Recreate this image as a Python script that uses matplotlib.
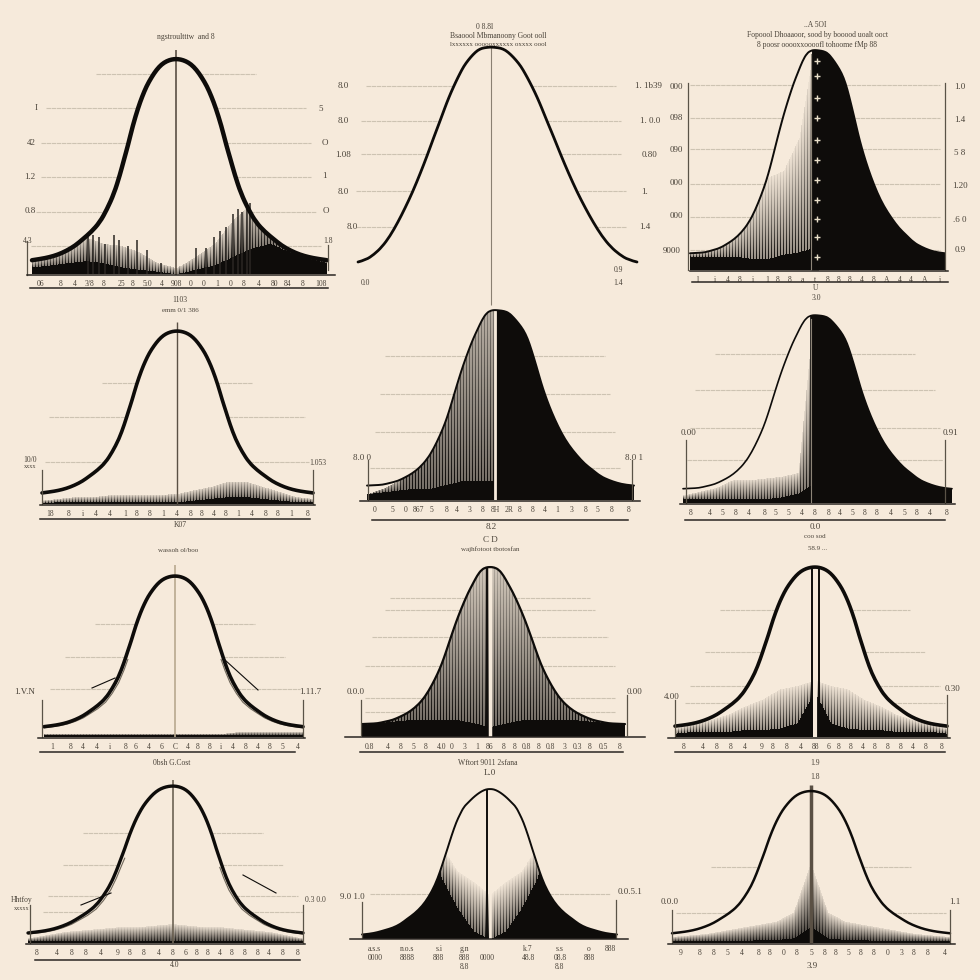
import numpy as np
import matplotlib
matplotlib.use("Agg")
import matplotlib.pyplot as plt
from matplotlib.lines import Line2D
from matplotlib.patches import PathPatch
from matplotlib.path import Path

PAPER = "#F6EADB"
INK = "#0E0C0A"
GRID = "#CDC3B2"
TEXT = "#4a4339"
plt.rcParams["font.family"] = ["Liberation Serif", "DejaVu Sans"]

# half bell: offset from the centre (0..1) and height (0..1)
OFFSET = [0, .03, .065, .1, .135, .17, .205, .235, .263, .3, .333, .36, .39, .43, .48, .53, .59, .647, .7, .76, .82, .88, .94, 1]
BELL_A = [1, .998, .99, .975, .95, .915, .873, .825, .773, .69, .60, .535, .46, .375, .30, .24, .195, .162, .132, .108, .09, .078, .07, .064]
BELL_FLAT = [1, .998, .995, .985, .965, .94, .91, .875, .84, .79, .74, .695, .645, .58, .495, .415, .325, .25, .185, .12, .07, .035, .01, 0]
BELL_SLIM = [1, .998, .985, .95, .9, .85, .79, .735, .68, .6, .525, .465, .405, .34, .27, .215, .17, .14, .12, .1, .09, .08, .078, .076]
BELL_FAT = [1, .998, .995, .985, .96, .93, .895, .85, .79, .7, .615, .555, .495, .425, .35, .29, .235, .19, .16, .125, .105, .09, .08, .076]
BELL_ROUND = [1, .998, .985, .965, .94, .91, .88, .83, .78, .69, .6, .53, .45, .36, .28, .22, .17, .135, .1, .075, .06, .045, .035, .03]

CURVES_LEFT = [BELL_A, BELL_FLAT, BELL_SLIM, BELL_A, BELL_SLIM, BELL_SLIM, BELL_A, BELL_SLIM, BELL_A, BELL_A, BELL_ROUND, BELL_A]
CURVES_RIGHT = [BELL_A, BELL_FLAT, BELL_FAT, BELL_A, BELL_FAT, BELL_FAT, BELL_A, BELL_SLIM, BELL_A, BELL_A, BELL_ROUND, BELL_A]

# ink under each curve at these stations, as fraction of the panel height
INK_X = [-1, -.875, -.75, -.625, -.5, -.375, -.25, -.125, -.01, .01, .125, .25, .375, .5, .625, .75, .875, 1]
SOLID = [
    [.03, .04, .05, .06, .05, .03, .02, .01, 0, 0, .02, .04, .08, .12, .14, .1, .07, .05],
    [0] * 18,
    [.06, .06, .06, .06, .05, .05, .07, .08, .1] + [1] * 9,
    [.005, .01, .01, .01, .01, .01, .01, .01, .01, .01, .02, .03, .04, .04, .03, .02, .01, .01],
    [.03, .04, .05, .06, .06, .08, .1, .1, .1] + [1] * 9,
    [.02, .02, .02, .02, .02, .02, .03, .05, .1] + [1] * 9,
    [.01] * 18,
    [.07, .08, .09, .1, .1, .1, .1, .08, .06, .06, .08, .1, .1, .1, .1, .09, .08, .07],
    [.02, .03, .03, .03, .04, .04, .05, .08, .25, .25, .08, .05, .04, .04, .03, .03, .03, .02],
    [.01] * 18,
    [1, 1, 1, 1, .75, .4, .2, .05, 0, 0, .05, .2, .4, .75, 1, 1, 1, 1],
    [.01, .01, .01, .01, .01, .02, .02, .03, .1, .1, .03, .02, .02, .01, .01, .01, .01, .01],
]
FADE = [
    [.06, .09, .12, .17, .14, .13, .1, .05, .03, .03, .08, .14, .25, .33, .33, .3, .16, .07],
    [0] * 18,
    [.08, .1, .14, .2, .32, .42, .45, .6, 1] + [1] * 9,
    [.02, .03, .04, .04, .05, .05, .05, .05, .06, .06, .08, .1, .13, .13, .1, .07, .04, .03],
    [.03, .06, .1, 1, 1, 1, 1, 1, 1] + [1] * 9,
    [.04, .06, .08, .12, .12, .13, .14, .16, 1] + [1] * 9,
    [.02, .02, .02, .02, .02, .02, .02, .02, .02, .02, .02, .02, .02, .03, .03, .03, .03, .03],
    [1] * 18,
    [.05, .08, .1, .13, .18, .22, .28, .3, .33, .33, .3, .28, .22, .18, .13, .1, .08, .05],
    [.03, .05, .07, .08, .09, .1, .1, .11, .12, .12, .11, .1, .1, .09, .08, .07, .05, .03],
    [1, 1, 1, 1, 1, .6, .45, .38, .3, .3, .38, .45, .6, 1, 1, 1, 1, 1],
    [.04, .05, .06, .08, .1, .12, .14, .2, .5, .5, .2, .14, .12, .1, .08, .06, .05, .04],
]
TIP = [.25, 0, .1, .2, .5, .15, .2, .3, .1, .1, .05, .1]
STRIPE = [.5, 0, .6, .5, .45, .5, .3, .45, .6, .3, .5, .3]

# separate tall spikes in the first panel
SPIKE_X = [-.58, -.55, -.51, -.47, -.41, -.38, -.32, -.26, -.19, -.1, .13, .2, .25, .29, .33, .38, .41, .44, .47, .49]
SPIKE_H = [.17, .18, .17, .14, .18, .16, .13, .16, .11, .05, .12, .12, .17, .2, .22, .28, .3, .29, .31, .33]

# faint horizontal rules: heights and how far each one reaches from the centre
GRID_LEVELS = [
    [.93, .77, .61, .45, .29, .13],
    [.82, .656, .5, .33, .165],
    [.84, .69, .55, .39, .24, .09],
    [.7, .5, .24],
    [.76, .56, .36, .17],
    [.79, .6, .4, .23],
    [.7, .5, .3],
    [.82, .75, .59, .42, .23, .15],
    [.75, .5, .3, .2],
    [.7, .5, .3, .2],
    [.3],
    [.5, .2],
]
GRID_REACH = [
    [80, 130, 135, 135, 140, 145],
    [125, 130, 130, 135, 135],
    [125, 125, 125, 125, 125, 125],
    [75, 128, 132],
    [110, 115, 120, 125],
    [100, 120, 125, 128],
    [80, 110, 125],
    [100, 105, 118, 125, 125, 125],
    [95, 110, 125, 130],
    [90, 110, 125, 130],
    [120],
    [100, 135],
]

TICK_POS = [-.94, -.8, -.7, -.6, -.5, -.38, -.3, -.2, -.1, 0, .1, .18, .27, .36, .45, .55, .65, .74, .84, .96]
TICK_LABELS = [
    ["06", "8", "4", "3/8", "8", "25", "8", "5:0", "4", "908", "0", "0", "1", "0", "8", "4", "80", "84", "8", "108"],
    [""] * 20,
    ["l", "i", "4", "8", "i", "1", "8", "8", "a", "t", "8", "8", "8", "4", "8", "A", "4", "4", "A", "i"],
    ["18", "8", "i", "4", "4", "1", "8", "8", "1", "4", "8", "8", "4", "8", "1", "4", "8", "8", "1", "8"],
    ["0", "5", "0", "867", "5", "8", "4", "3", "8", "8H", "2R", "8", "8", "4", "1", "3", "8", "5", "8", "8"],
    ["8", "4", "5", "8", "4", "8", "5", "5", "4", "8", "8", "4", "5", "8", "8", "4", "5", "8", "4", "8"],
    ["1", "8", "4", "4", "i", "8", "6", "4", "6", "C", "4", "8", "8", "i", "4", "8", "4", "8", "5", "4"],
    ["0.8", "4", "8", "5", "8", "4.0", "0", "3", "1", "86", "8", "8", "0.8", "8", "0.8", "3", "0.3", "8", "0.5", "8"],
    ["8", "4", "8", "8", "4", "9", "8", "8", "4", "88", "6", "8", "8", "4", "8", "8", "8", "4", "8", "8"],
    ["8", "4", "8", "8", "4", "9", "8", "8", "4", "8", "6", "8", "8", "4", "8", "8", "8", "4", "8", "8"],
    [""] * 20,
    ["9", "8", "8", "5", "4", "8", "8", "0", "8", "5", "8", "8", "5", "8", "8", "0", "3", "8", "8", "4"],
]

# P11 has grouped labels instead of a ruler
P11_TICKS = [-.9, -.65, -.4, -.2, -.02, .3, .55, .78, .95]
P11_LABELS = ["a.s.s\n0000", "n.o.s\n8888", "s.i\n888", "g.n\n888\n8.8", "\n0000", "k.7\n48.8", "s.s\n08.8\n8.8", "o\n888", "888\n"]

SPINE_MARKS = [.06, .15, .23, .32, .41, .5, .59, .69, .78, .88, .95]

# geometry in reference pixels: left, centre, right, peak, base
LEFT = [32, 358, 690, 42, 367, 683, 44, 362, 675, 28, 362, 672]
CENTRE = [176, 491, 815, 177, 495, 815, 175, 490, 815, 173, 490, 811]
RIGHT = [327, 637, 945, 313, 634, 952, 303, 625, 947, 303, 617, 950]
PEAK = [59, 47, 50, 331, 310, 315, 576, 567, 567, 786, 789, 791]
BASE = [274, 262, 270, 504, 500, 503, 737, 737, 737, 943, 939, 943]
CURVE_WIDTH = [3.2, 2.0, 1.4, 2.6, 1.4, 1.2, 2.6, 1.6, 2.6, 2.4, 1.4, 1.8]
CENTRE_TOP = [50, 47, 50, 322, 260, 315, 565, 560, 560, 780, 780, 785]
CENTRE_BOTTOM = [275, 305, 270, 504, 500, 503, 737, 737, 737, 943, 945, 943]
CENTRE_COLOUR = ["#5a5044", "#8a8072", INK, "#5a5044", PAPER, INK, "#b8a98f", PAPER, PAPER, "#6d6354", PAPER, "#5a5044"]
CENTRE_WIDTH = [1.2, .8, 5, 1, 2, 7, 1.2, 2.5, 3, 1.2, 2, 2.5]
RULE_Y = [288, None, 282, 519, 520, 520, 752, 752, 752, 960, None, None]
RULE_X = [(30, 328), None, (692, 948), (40, 310), (372, 628), (685, 945), (40, 295), (360, 623), (675, 945), (35, 300), None, None]
STEMS = [(27, 241, 275), (328, 245, 270), (688, 83, 270), (945, 83, 270), (42, 470, 504), (313, 470, 504),
         (368, 460, 500), (632, 460, 500), (686, 440, 503), (945, 440, 503), (42, 700, 737), (303, 700, 737),
         (361, 700, 735), (627, 695, 735), (675, 700, 737), (947, 695, 737), (30, 905, 943), (303, 905, 943),
         (362, 902, 938), (616, 900, 938), (672, 910, 943), (950, 910, 943)]
BASELINES = [(27, 335, 275), (690, 948, 271), (40, 315, 505), (360, 640, 501), (680, 955, 504), (38, 305, 738),
             (345, 645, 737), (668, 950, 738), (26, 305, 944), (350, 628, 939), (668, 955, 944)]

TEXTS = [
    (186, 37, "ngstroultttw  and 8", 5.5), (485, 27, "0 8.8l", 5.5), (498, 36, "Bsaoool Mbmanoony Goot ooll", 5.5),
    (498, 44, "lxxxxxx oooooxxxxxx oxxxx oool", 5), (815, 25, "..A 5OI", 5.5),
    (817, 35, "Fopoool Dhoaaoor, sood by booood uoalt ooct", 5.5), (817, 45, "8 poosr ooooxxoooofl tohoome fMp 88", 5.5),
    (36, 108, "I", 6.5), (31, 143, "42", 6.5), (30, 177, "1.2", 6.5), (30, 211, "0.8", 6.5), (28, 241, "4.3", 5.5),
    (321, 109, "5", 6.5), (325, 143, "O", 6.5), (324, 176, "1", 6.5), (326, 211, "O", 6.5), (328, 241, "1.8", 5.5),
    (343, 86, "8.0", 6.5), (343, 121, "8.0", 6.5), (343, 155, "1.08", 6.5), (343, 192, "8.0", 6.5), (352, 227, "8.0", 6.5),
    (648, 86, "1. 1b39", 6.5), (650, 121, "1. 0.0", 6.5), (650, 155, "0.80", 6.5), (645, 192, "1.", 6.5), (645, 227, "1.4", 6.5),
    (365, 283, "0.0", 5.5), (618, 270, "0.9", 5.5), (618, 283, "1.4", 5.5),
    (676, 87, "000", 6.5), (676, 118, "098", 6.5), (676, 150, "090", 6.5), (676, 183, "000", 6.5), (676, 216, "000", 6.5), (672, 251, "9000", 6.5),
    (960, 87, "1.0", 6.5), (960, 120, "1.4", 6.5), (960, 153, "5 8", 6.5), (960, 186, "1.20", 6.5), (960, 220, ".6 0", 6.5), (960, 250, "0.9", 6.5),
    (816, 288, "U", 5.5), (816, 298, "3.0", 5.5), (180, 300, "1103", 5.5), (180, 311, "emm 0/1 386", 5),
    (30, 460, "10/0", 5.5), (30, 466, "xxxx", 4.5), (318, 463, "1.053", 5.5), (180, 525, "K07", 5.5),
    (362, 458, "8.0 0", 6.5), (634, 458, "8.0 1", 6.5), (491, 527, "8.2", 6.5), (688, 433, "0.00", 6.5), (950, 433, "0.91", 6.5), (815, 527, "0.0", 6.5),
    (178, 551, "wassoh ol/boo", 5), (25, 692, "1.V.N", 6.5), (310, 692, "1.11.7", 6.5),
    (490, 540, "C D", 6.5), (490, 549, "wajhfotoot tbotosfan", 5), (356, 692, "0.0.0", 6.5), (634, 692, "0.00", 6.5),
    (815, 537, "coo sod", 5), (818, 549, "58.9 ...", 5), (672, 697, "4.00", 6.5), (952, 689, "0.30", 6.5),
    (172, 763, "0bsh G.Cost", 5.5), (488, 763, "Wftort 9011 2sfana", 5.5), (490, 773, "L.0", 6.5), (815, 763, "1.9", 5.5), (815, 777, "1.8", 5.5),
    (175, 965, "4.0", 5.5), (22, 900, "Hhtfoy", 5.5), (22, 908, "xxxxx", 4.5), (315, 900, "0.3 0.0", 5.5), (352, 897, "9.0 1.0", 6.5),
    (630, 892, "0.0.5.1", 6.5), (670, 902, "0.0.0", 6.5), (955, 902, "1.1", 6.5), (812, 966, "3.9", 6.5),
]
WINGS = [
    (6, [-83, -70, -60], [688, 681, 678], [50, 67, 83], [660, 676, 690]),
    (9, [-92, -78, -62], [905, 900, 893], [70, 85, 103], [875, 885, 893]),
]


def bell(values_left, values_right, left_span, right_span):
    off = np.array(OFFSET)
    xs = np.concatenate([off[::-1] * left_span, off[1:] * right_span])
    ys = np.concatenate([np.array(values_left)[::-1], np.array(values_right)[1:]])
    return xs, ys


def smooth_path(xs, ys, closed_to_base=False):
    # the read points act as quadratic control points, so the joins do not show
    verts = [(xs[0], ys[0])]
    codes = [Path.MOVETO]
    for i in range(1, len(xs) - 1):
        end_x = xs[i + 1] if i == len(xs) - 2 else (xs[i] + xs[i + 1]) / 2
        end_y = ys[i + 1] if i == len(xs) - 2 else (ys[i] + ys[i + 1]) / 2
        verts += [(xs[i], ys[i]), (end_x, end_y)]
        codes += [Path.CURVE3, Path.CURVE3]
    if closed_to_base:
        verts += [(xs[-1], 0), (xs[0], 0), (xs[0], ys[0])]
        codes += [Path.LINETO, Path.LINETO, Path.CLOSEPOLY]
    return Path(verts, codes)


def ink_layer(ax, idx, xs, ys, left_span, right_span):
    width = int(right_span - left_span)
    height = int(BASE[idx] - PEAK[idx])
    if max(FADE[idx]) == 0:
        return
    px = np.linspace(left_span, right_span, width)
    unit = np.where(px < 0, px / abs(left_span), px / right_span)
    solid = np.interp(unit, INK_X, SOLID[idx])
    fade = np.interp(unit, INK_X, FADE[idx])
    level = (np.arange(height)[::-1] + .5)[:, None] / height
    ramp = np.clip((fade - level) / np.maximum(fade - solid, 1e-3), 0, 1)
    alpha = TIP[idx] + (1 - TIP[idx]) * ramp
    alpha[level >= fade] = 0
    stripes = np.where(np.arange(width) % 3 == 0, 1.0, 1.0 - STRIPE[idx])
    alpha = alpha * stripes[None, :]
    alpha[level < solid] = 1
    rgba = np.zeros((height, width, 4))
    rgba[..., :3] = matplotlib.colors.to_rgb(INK)
    rgba[..., 3] = alpha
    image = ax.imshow(rgba, extent=(left_span, right_span, 0, 1), aspect="auto", interpolation="nearest", zorder=2)
    patch = PathPatch(smooth_path(xs, ys, True), transform=ax.transData, fc="none", ec="none")
    ax.add_patch(patch)
    image.set_clip_path(patch)


def draw_panel(fig, idx):
    x0, x1, c = LEFT[idx], RIGHT[idx], CENTRE[idx]
    top, base = PEAK[idx], BASE[idx]
    ax = fig.add_axes([x0 / 980, 1 - base / 980, (x1 - x0) / 980, (base - top) / 980])
    left_span, right_span = x0 - c, x1 - c
    ax.patch.set_alpha(0)
    xs, ys = bell(CURVES_LEFT[idx], CURVES_RIGHT[idx], left_span, right_span)

    off = np.array(OFFSET)
    for level, reach in zip(GRID_LEVELS[idx], GRID_REACH[idx]):
        inner_l = np.interp(-level, -np.array(CURVES_LEFT[idx]), off) * abs(left_span)
        inner_r = np.interp(-level, -np.array(CURVES_RIGHT[idx]), off) * right_span
        ax.plot([-reach, -inner_l], [level, level], color=GRID, lw=.8, ls=(0, (4, .6)), clip_on=False, zorder=1)
        ax.plot([inner_r, reach], [level, level], color=GRID, lw=.8, ls=(0, (4, .6)), clip_on=False, zorder=1)

    ink_layer(ax, idx, xs, ys, left_span, right_span)
    if idx == 0:
        spike_x = np.array(SPIKE_X) * right_span
        ax.vlines(spike_x, 0, SPIKE_H, color="#2b2723", lw=1.1, zorder=2)

    span = base - top
    ax.plot([0, 0], [(base - CENTRE_BOTTOM[idx]) / span, (base - CENTRE_TOP[idx]) / span],
            color=CENTRE_COLOUR[idx], lw=CENTRE_WIDTH[idx], clip_on=False, zorder=3, solid_capstyle="butt")
    if idx in (2, 5):
        ax.plot([-4, -4], [0, .98], color="#8d8578", lw=.8, zorder=4)
    if idx in (7, 8, 10):
        ax.plot([-3.5, -3.5], [0, 1], color=INK, lw=1.4, zorder=4)
    if idx == 8:
        ax.plot([3.5, 3.5], [0, 1], color=INK, lw=1.4, zorder=4)
    if idx == 2:
        ax.plot(np.zeros(len(SPINE_MARKS)) + 2, SPINE_MARKS, ls="none", marker="+", ms=4, mew=1, color="#E9DFC9", zorder=5)

    if idx in (6, 9):
        ax.plot(xs, np.where(np.abs(xs) > 45, ys * .9, np.nan), color="#6f675b", lw=.8, zorder=3)
    ax.add_patch(PathPatch(smooth_path(xs, ys), fc="none", ec=INK, lw=CURVE_WIDTH[idx], clip_on=False, zorder=6, capstyle="round"))

    ax.set_xlim(left_span, right_span)
    ax.set_ylim(0, 1)
    for spine in ax.spines.values():
        spine.set_visible(False)
    ax.set_yticks([])
    if idx == 10:
        pos = np.where(np.array(P11_TICKS) < 0, np.array(P11_TICKS) * abs(left_span), np.array(P11_TICKS) * right_span)
        ax.set_xticks(pos, P11_LABELS, fontsize=5.5)
    else:
        pos = np.where(np.array(TICK_POS) < 0, np.array(TICK_POS) * abs(left_span), np.array(TICK_POS) * right_span)
        ax.set_xticks(pos, TICK_LABELS[idx], fontsize=5.5)
    ax.tick_params(axis="x", length=0, pad=4, colors=TEXT)


def px_line(fig, x0, y0, x1, y1, colour="#2a2622", lw=1.0):
    fig.add_artist(Line2D([x0 / 980, x1 / 980], [1 - y0 / 980, 1 - y1 / 980], color=colour, lw=lw))


def main():
    fig = plt.figure(figsize=(9.8, 9.8), dpi=100, facecolor=PAPER)
    for idx in range(12):
        draw_panel(fig, idx)
    for y, span in zip(RULE_Y, RULE_X):
        if y is not None:
            px_line(fig, span[0], y, span[1], y, lw=1.1)
    for x, y0, y1 in STEMS:
        px_line(fig, x, y0, x, y1, colour="#5a5347", lw=.9)
    for x0, x1, y in BASELINES:
        px_line(fig, x0, y, x1, y, lw=1.1)
    for idx, lx, ly, rx, ry in WINGS:
        c = CENTRE[idx]
        px_line(fig, c + lx[0], ly[0], c + lx[-1], ly[-1], colour=INK, lw=.8)
        px_line(fig, c + rx[0], ry[0], c + rx[-1], ry[-1], colour=INK, lw=.8)
    for x, y, label, size in TEXTS:
        fig.text(x / 980, 1 - y / 980, label, ha="center", va="center", fontsize=size, color=TEXT)
    fig.savefig("out.png", dpi=100, facecolor=PAPER)


if __name__ == "__main__":
    main()
